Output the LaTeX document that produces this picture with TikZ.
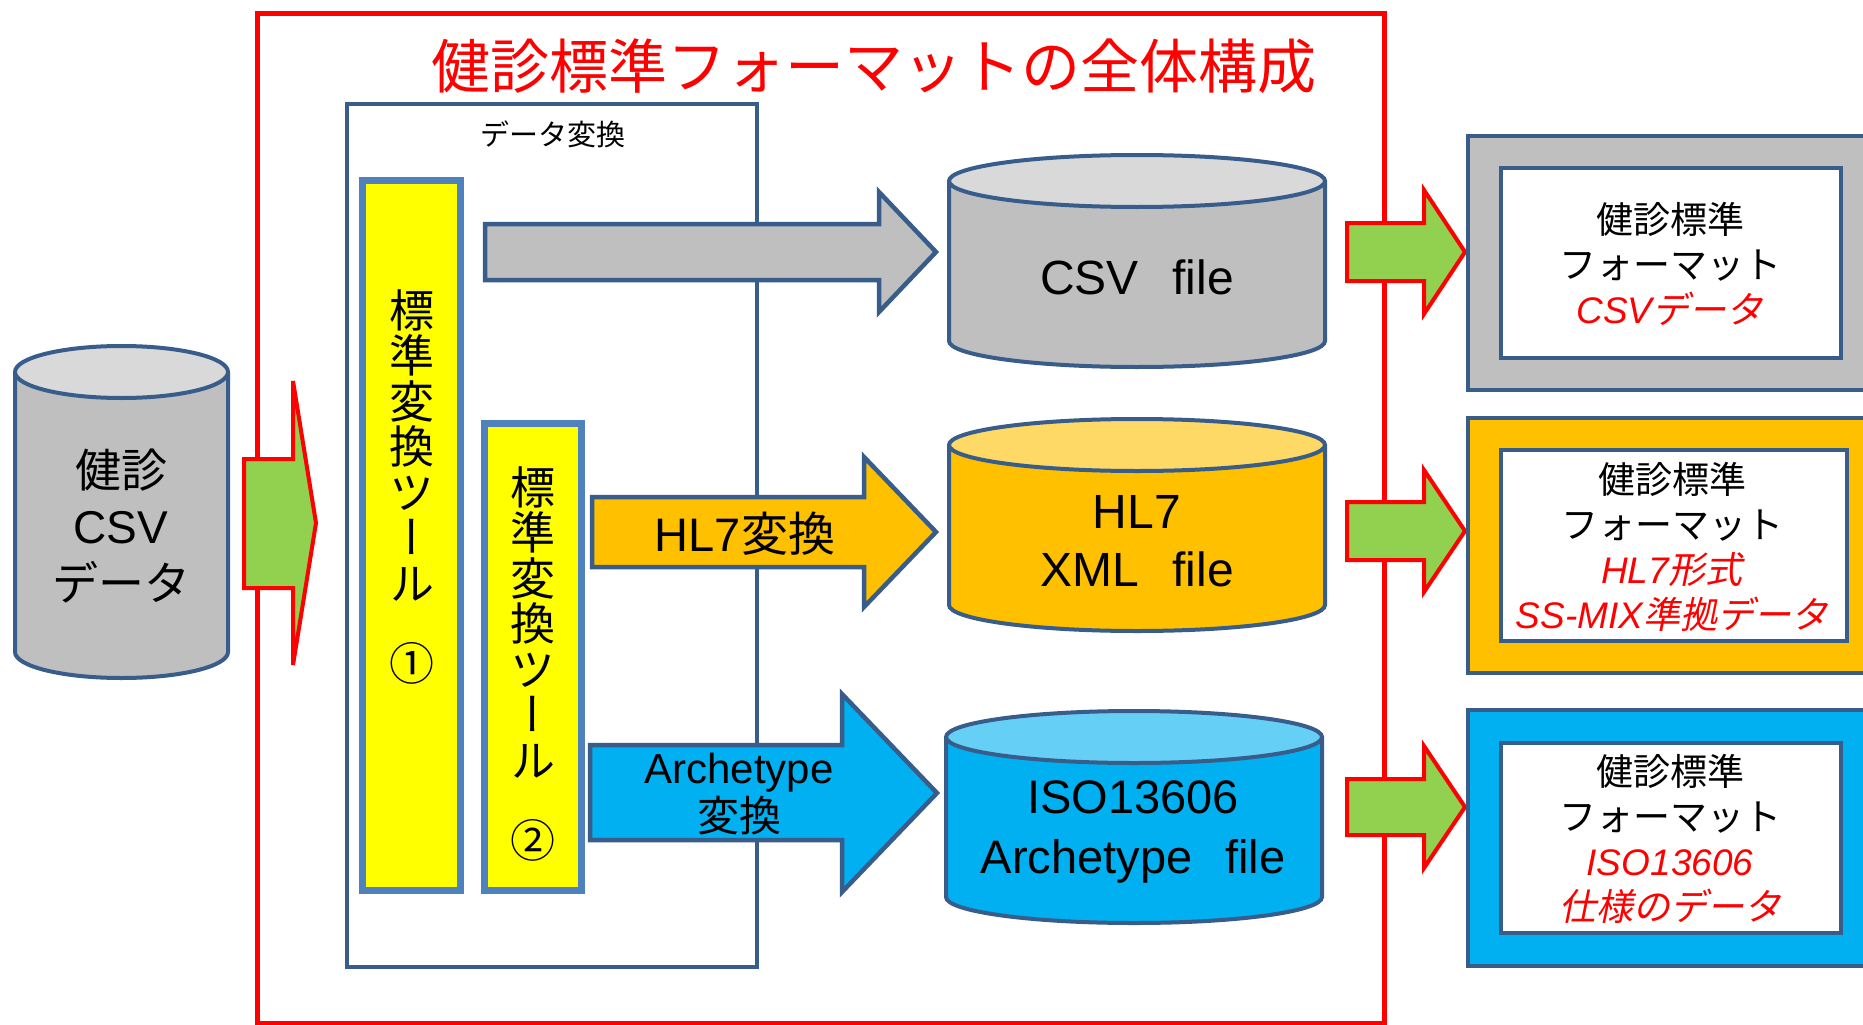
\documentclass[tikz,border=0pt]{standalone}
\usepackage{fontspec}
\setmainfont{Liberation Sans}
\newfontfamily\jp{Noto Sans CJK JP}
\newfontfamily\jpit[FakeSlant=0.2]{Noto Sans CJK JP}
\newfontfamily\jpv[RawFeature=+vert]{Noto Sans CJK JP}
\definecolor{dkblue}{HTML}{385D8A}
\definecolor{tlblue}{HTML}{4F81BD}
\definecolor{gfill}{HTML}{BFBFBF}
\definecolor{gtop}{HTML}{D9D9D9}
\definecolor{ofill}{HTML}{FFC000}
\definecolor{otop}{HTML}{FFD966}
\definecolor{cfill}{HTML}{00B0F0}
\definecolor{ctop}{HTML}{66CFF6}
\definecolor{grn}{HTML}{92D050}
\definecolor{yel}{HTML}{FFFF00}
\definecolor{rd}{HTML}{FF0000}
\tikzset{
  redframe/.style={draw=rd, line width=5pt},
  databox/.style={draw=dkblue, line width=3.5pt},
  toolbox/.style={draw=tlblue, fill=yel, line width=7pt},
  cylline/.style={draw=dkblue, line width=4pt},
  blockarrow/.style={draw=dkblue, line width=4.5pt, line join=miter},
  greenarrow/.style={draw=rd, fill=grn, line width=4pt, line join=miter},
  outbox/.style={draw=dkblue, line width=4pt},
  inbox/.style={draw=dkblue, fill=white, line width=4pt},
  txt/.style={inner sep=0pt, align=center},
}
\newcommand\dbcyl[7]{%
  \filldraw[cylline, fill=#6] (#1,#3) -- (#1,#4)
     arc[start angle=180, end angle=0, x radius={(#2-#1)/2}, y radius=#5] -- (#2,#3);
  \filldraw[cylline, fill=#7] ({(#1+#2)/2},#3) ellipse[x radius={(#2-#1)/2}, y radius=#5];
}
\begin{document}
\begin{tikzpicture}[x=1pt,y=-1pt]
\useasboundingbox (0,0) rectangle (1863,1025);
\clip (0,0) rectangle (1863,1025);
\fill[white] (0,0) rectangle (1863,1025);

% red outer frame and title
\draw[redframe] (257,14) rectangle (1384,1023);
\node[txt, text=rd, font=\jp\fontsize{59}{59}\selectfont] (title) at (874,66) {健診標準フォーマットの全体構成};

% data conversion box
\draw[databox] (347,104) rectangle (757,967);
\node[txt, font=\jp\fontsize{29}{29}\selectfont] (dclabel) at (553,134) {データ変換};

% tools
\draw[toolbox] (362.5,180.5) rectangle (460.5,890.5);
\draw[toolbox] (484.5,423.5) rectangle (581.5,890.5);
\node[txt, font=\jpv\fontsize{45}{45.5}\selectfont] (tool1) at (412,487) {標\\準\\変\\換\\ツ\\ー\\ル\\[35pt]①};
\node[txt, font=\jpv\fontsize{45}{45.5}\selectfont] (tool2) at (533,664) {標\\準\\変\\換\\ツ\\ー\\ル\\[35pt]②};

% source cylinder
\dbcyl{15}{228}{372}{652}{26}{gfill}{gtop}
\node[txt, font=\fontsize{46}{56.5}\selectfont] (src) at (121,526) {{\jp 健診}\\CSV\\{\jp データ}};

% left green arrow
\draw[greenarrow] (244,459) -- (293,459) -- (293,381) -- (316,523) -- (293,665) -- (293,588) -- (244,588) -- cycle;

% conversion block arrows
\draw[blockarrow, fill=gfill] (485,224) -- (879,224) -- (879,192) -- (936,252) -- (879,312) -- (879,280) -- (485,280) -- cycle;
\draw[blockarrow, fill=ofill] (592,497) -- (864,497) -- (864,457) -- (936,532) -- (864,607) -- (864,567) -- (592,567) -- cycle;
\node[txt, font=\fontsize{47}{47}\selectfont] (hl7lbl) at (745,534) {HL7{\jp 変換}};
\draw[blockarrow, fill=cfill] (590,745) -- (842,745) -- (842,694) -- (937,793) -- (842,892) -- (842,840) -- (590,840) -- cycle;
\node[txt, font=\fontsize{42}{48}\selectfont] (arclbl) at (739,794) {Archetype\\{\jp 変換}};

% file cylinders
\dbcyl{949}{1325}{181}{341}{26}{gfill}{gtop}
\node[txt, font=\fontsize{48}{48}\selectfont] (csvf) at (1137,277) {CSV\hspace{0.7em}file};
\dbcyl{949}{1325}{445}{605}{26}{ofill}{otop}
\node[txt, font=\fontsize{48}{58}\selectfont] (hl7f) at (1137,541) {HL7\\XML\hspace{0.7em}file};
\dbcyl{946}{1322}{737}{897}{26}{cfill}{ctop}
\node[txt, font=\fontsize{47}{60}\selectfont] (isof) at (1133,832) {ISO13606\\Archetype\hspace{0.7em}file};

% right green arrows
\draw[greenarrow] (1347,223) -- (1424,223) -- (1424,190) -- (1465,252) -- (1424,314) -- (1424,281) -- (1347,281) -- cycle;
\draw[greenarrow] (1347,502) -- (1424,502) -- (1424,470) -- (1465,531) -- (1424,592) -- (1424,560) -- (1347,560) -- cycle;
\draw[greenarrow] (1347,779) -- (1424,779) -- (1424,746) -- (1465,807) -- (1424,868) -- (1424,835) -- (1347,835) -- cycle;

% output boxes
\draw[outbox, fill=gfill] (1468,136) rectangle (1900,390);
\draw[inbox] (1501,168) rectangle (1841,358);
\node[txt, font=\fontsize{37}{45}\selectfont] (out1) at (1670,264) {{\jp 健診標準}\\{\jp フォーマット}\\{\color{rd}{\itshape CSV}{\jpit データ}}};

\draw[outbox, fill=ofill] (1468,418) rectangle (1900,673);
\draw[inbox] (1501,450) rectangle (1847,641);
\node[txt, font=\fontsize{37}{45}\selectfont] (out2) at (1672,547) {{\jp 健診標準}\\{\jp フォーマット}\\{\color{rd}{\itshape HL7}{\jpit 形式}}\\{\color{rd}{\itshape SS-MIX}{\jpit 準拠データ}}};

\draw[outbox, fill=cfill] (1468,710) rectangle (1900,966);
\draw[inbox] (1501,743) rectangle (1841,933);
\node[txt, font=\fontsize{37}{45}\selectfont] (out3) at (1670,839) {{\jp 健診標準}\\{\jp フォーマット}\\{\color{rd}\itshape ISO13606}\\{\color{rd}{\jpit 仕様のデータ}}};
\end{tikzpicture}
\end{document}
